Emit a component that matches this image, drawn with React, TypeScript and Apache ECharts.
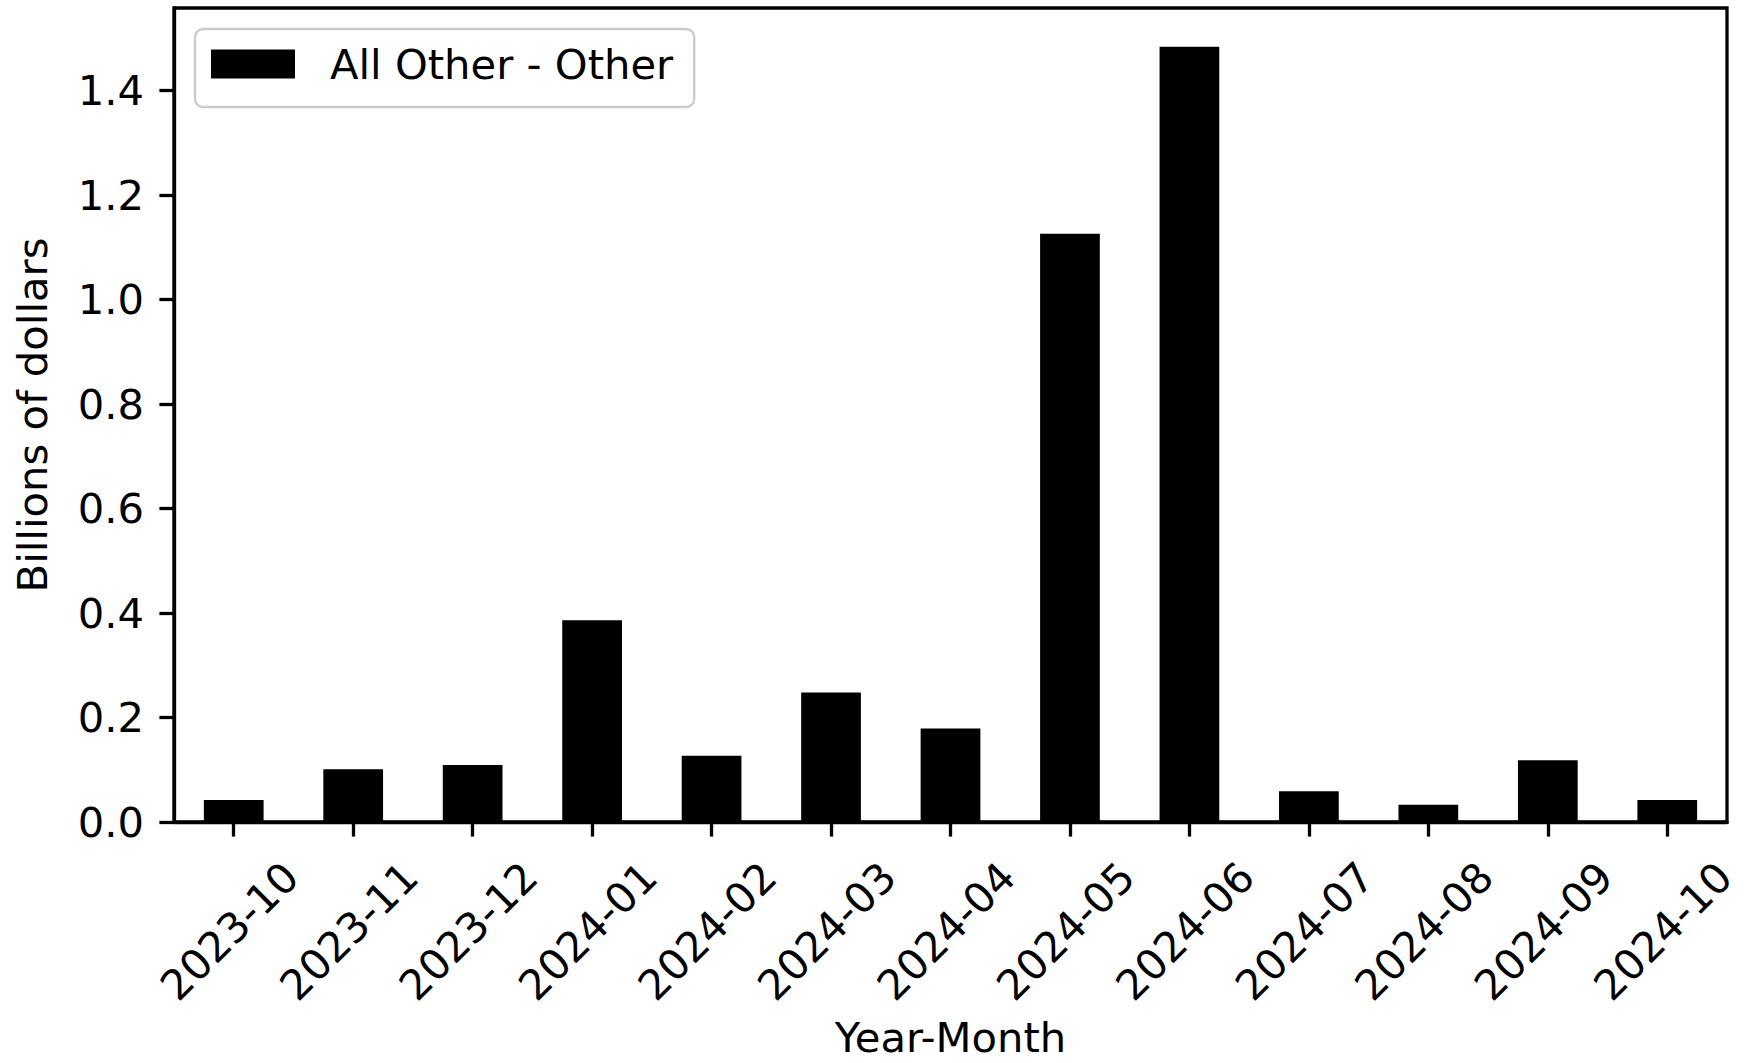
import React, { useEffect, useRef } from "react";
import * as echarts from "echarts";

const categories = [
  "2023-10", "2023-11", "2023-12", "2024-01", "2024-02", "2024-03", "2024-04",
  "2024-05", "2024-06", "2024-07", "2024-08", "2024-09", "2024-10",
];
const seriesName = "All Other - Other";
const values = [0.042, 0.101, 0.109, 0.386, 0.127, 0.248, 0.179, 1.126, 1.484, 0.059, 0.033, 0.118, 0.042];
const yTicks = [0, 0.2, 0.4, 0.6, 0.8, 1.0, 1.2, 1.4];
const xTitle = "Year-Month";
const yTitle = "Billions of dollars";

const FONT = "DejaVu Sans";
const FS = 41.7;
const LW = 3.3;

export default function App() {
  const ref = useRef<HTMLDivElement>(null);
  useEffect(() => {
    if (!ref.current) return;
    const chart = echarts.init(ref.current, null, { renderer: "svg" });
    const yMax = Math.max(...values) * 1.05;
    chart.setOption({
      animation: false,
      backgroundColor: "#ffffff",
      textStyle: { fontFamily: FONT },
      grid: {
        left: 174,
        right: 18,
        top: 8,
        bottom: 241,
        containLabel: false,
        outerBoundsMode: "none",
        show: true,
        borderColor: "#000",
        borderWidth: LW,
        backgroundColor: "transparent",
      },
      legend: {
        left: 195,
        top: 29,
        orient: "vertical",
        icon: "rect",
        itemWidth: 84,
        itemHeight: 29,
        padding: [14, 21, 22, 16],
        backgroundColor: "rgba(255,255,255,0.8)",
        borderColor: "#cccccc",
        borderWidth: 2.5,
        borderRadius: 8,
        textStyle: {
          fontFamily: FONT,
          fontSize: FS,
          color: "#000",
          lineHeight: 42,
          padding: [0, 0, 0, 30],
        },
        data: [seriesName],
      },
      xAxis: {
        type: "category",
        data: categories,
        z: 10,
        name: xTitle,
        nameLocation: "middle",
        nameGap: 198,
        nameTextStyle: { fontFamily: FONT, fontSize: FS, color: "#000", lineHeight: 34 },
        axisLine: { show: true, lineStyle: { color: "#000", width: LW } },
        axisTick: { show: true, alignWithLabel: true, length: 14.6, lineStyle: { color: "#000", width: LW } },
        axisLabel: {
          interval: 0,
          rotate: 45,
          align: "center",
          verticalAlign: "middle",
          margin: 105,
          padding: [0, 12, 0, 0],
          fontFamily: FONT,
          fontSize: FS,
          color: "#000",
        },
        splitLine: { show: false },
      },
      yAxis: {
        type: "value",
        min: 0,
        max: yMax,
        z: 10,
        name: yTitle,
        nameLocation: "middle",
        nameGap: 121,
        nameTextStyle: { fontFamily: FONT, fontSize: FS, color: "#000", lineHeight: 42 },
        axisLine: { show: true, lineStyle: { color: "#000", width: LW } },
        axisTick: { show: true, length: 14.6, lineStyle: { color: "#000", width: LW }, customValues: yTicks },
        axisLabel: {
          customValues: yTicks,
          margin: 30,
          fontFamily: FONT,
          fontSize: FS,
          color: "#000",
          formatter: (v: number) => v.toFixed(1),
        },
        splitLine: { show: false },
      },
      series: [
        {
          name: seriesName,
          type: "bar",
          data: values,
          barWidth: "50%",
          itemStyle: { color: "#000" },
        },
      ],
    });
    return () => chart.dispose();
  }, []);
  return (
    <div
      ref={ref}
      style={{ position: "absolute", left: 0, top: 0, width: 1745, height: 1063, background: "#fff" }}
    />
  );
}
